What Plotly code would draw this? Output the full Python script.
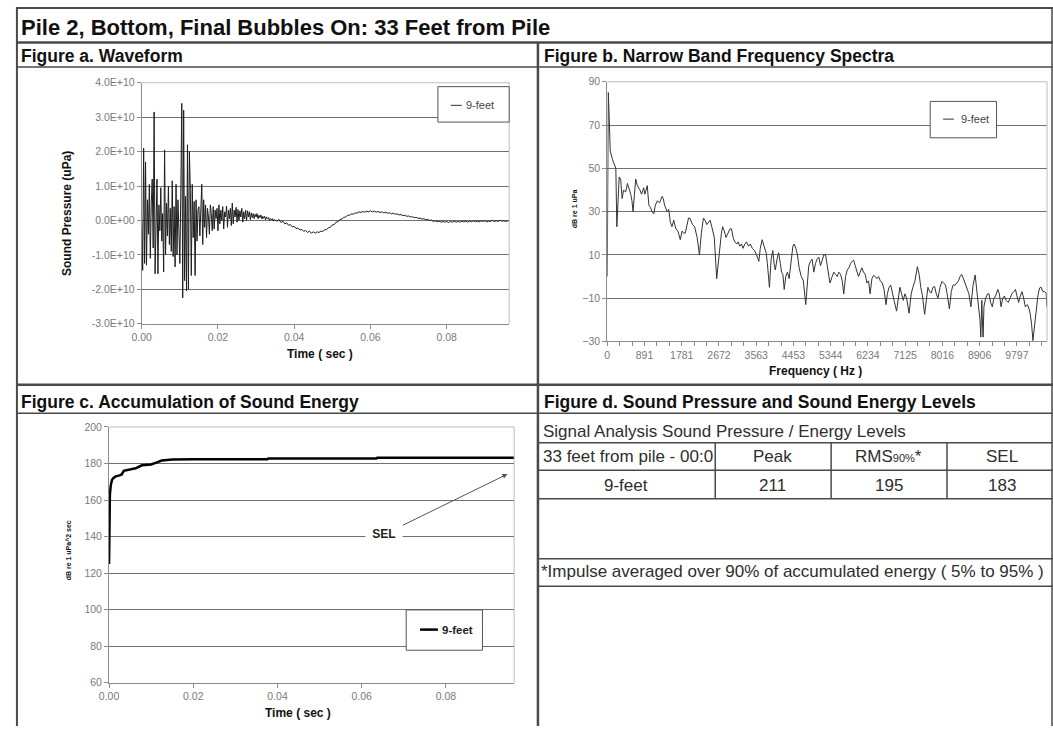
import plotly.graph_objects as go

W, H = 1053, 732
FONT = "Liberation Sans, Arial, sans-serif"

# ---------------- data ----------------
# Figure a: waveform, pressure in units of 1E+10 uPa
wave_early_dt = 0.00025
wave_early_e10 = [
    0.0, -1.45, 2.1, -1.25,
    1.7, -1.3, 0.6, -0.4,
    1.05, -1.1, 0.5, 1.2,
    -0.8, 3.15, -1.55, 0.3,
    1.2, -1.55, 0.45, -0.3,
    0.95, -0.6, 0.2, -1.5,
    2.05, -1.0, 0.5, -0.45,
    1.0, -0.7, 0.35, -0.9,
    1.15, -1.05, 0.4, -1.35,
    1.05, -1.0, 0.6, -0.3,
    -1.25, 0.8, 3.4, -2.25,
    3.2, -1.75, 0.7, -2.05,
    2.2, -2.0, 2.0, 0.9,
    -1.6, 1.05, -0.5, 0.55,
    -1.6, 0.6, -0.6, 0.3,
    0.4, -0.45, 0.5, 1.05,
    -0.7, 0.6, -0.2, 0.45,
    -0.5, 0.35, 0.1, -0.4,
    0.45, 0.2, -0.3, 0.4,
    -0.25, 0.3, 0.05, 0.35,
    -0.3, 0.45, -0.1, 0.3,
    0.0, 0.4, -0.25, 0.25,
    0.1, 0.42, -0.2, 0.3,
    0.05, 0.35, -0.15, 0.5,
    -0.1, 0.3, 0.1, 0.38,
    -0.05, 0.32, 0.0, 0.28,
    0.1, 0.35, -0.05, 0.25,
    0.05, 0.3, 0.0, 0.28,
    0.1, 0.25, 0.02, 0.22,
    0.08, 0.2, 0.05, 0.18,
    0.1, 0.2, 0.05, 0.15,
    0.08, 0.16, 0.04, 0.12,
    0.06, 0.12, 0.02, 0.1,
    0.05, 0.08, 0.0, 0.06,
    0.02, 0.05, -0.02, 0.03,
    0.0,
]
wave_late_t0 = 0.0355
wave_late_dt = 0.0005
wave_late_e10 = [
    -0.02, 0.03, -0.06, -0.02, -0.1, -0.07, -0.14, -0.12, -0.19, -0.17,
    -0.24, -0.22, -0.28, -0.26, -0.32, -0.29, -0.35, -0.31, -0.37, -0.33,
    -0.37, -0.33, -0.35, -0.31, -0.32, -0.27, -0.27, -0.21, -0.2, -0.13,
    -0.12, -0.05, -0.04, 0.03, 0.04, 0.09, 0.1, 0.15, 0.15, 0.19,
    0.18, 0.22, 0.21, 0.25, 0.23, 0.26, 0.24, 0.27, 0.25, 0.28,
    0.25, 0.27, 0.24, 0.26, 0.23, 0.25, 0.22, 0.24, 0.21, 0.22,
    0.19, 0.21, 0.18, 0.19, 0.16, 0.17, 0.14, 0.15, 0.12, 0.13,
    0.1, 0.11, 0.08, 0.09, 0.06, 0.07, 0.04, 0.05, 0.02, 0.03,
    0.0, 0.01, -0.03, -0.01, -0.04, -0.02, -0.05, -0.03, -0.05, -0.03,
    -0.06, -0.03, -0.05, -0.02, -0.05, -0.03, -0.05, -0.02, -0.04, -0.02,
    -0.05, -0.02, -0.04, -0.01, -0.04, -0.02, -0.04, -0.01, -0.03, -0.01,
    -0.04, -0.02, -0.03, 0.0, -0.03, -0.01, -0.03, 0.0, -0.02, -0.01,
    -0.03, -0.01, -0.02,
]

# Figure b: narrow band spectrum
spec_freq_hz = [
    0, 24, 40, 71, 126, 205, 229, 260, 285, 320, 356, 390, 440, 482, 520, 561, 590, 617, 650, 680,
    720, 782, 820, 870, 900, 956, 995, 1030, 1070, 1114, 1150, 1200, 1250, 1311, 1340, 1370, 1430,
    1470, 1510, 1548, 1590, 1640, 1690, 1746, 1790, 1830, 1865, 1905, 1944, 1975, 2000, 2040, 2090,
    2150, 2205, 2250, 2300, 2340, 2380, 2418, 2460, 2500, 2560, 2617, 2650, 2697, 2730, 2760, 2800,
    2840, 2880, 2935, 2973, 3010, 3052, 3100, 3130, 3170, 3210, 3247, 3290, 3330, 3380, 3420, 3470,
    3523, 3570, 3626, 3660, 3705, 3750, 3800, 3830, 3879, 3920, 3960, 3990, 4020, 4060, 4099, 4140,
    4170, 4200, 4233, 4270, 4310, 4350, 4400, 4440, 4470, 4510, 4550, 4590, 4640, 4690, 4747, 4780,
    4820, 4860, 4900, 4940, 4980, 5020, 5060, 5100, 5140, 5180, 5222, 5270, 5327, 5380, 5420, 5460,
    5500, 5540, 5580, 5620, 5657, 5700, 5740, 5780, 5820, 5860, 5894, 5930, 5970, 6010, 6050, 6090,
    6130, 6170, 6210, 6250, 6287, 6330, 6370, 6410, 6450, 6490, 6530, 6580, 6620, 6667, 6700, 6740,
    6780, 6820, 6860, 6920, 6960, 7000, 7040, 7080, 7120, 7160, 7220, 7270, 7310, 7360, 7418, 7460,
    7500, 7540, 7591, 7630, 7670, 7710, 7750, 7790, 7830, 7870, 7910, 7960, 8003, 8050, 8090, 8130,
    8184, 8230, 8270, 8320, 8360, 8400, 8440, 8476, 8520, 8560, 8600, 8650, 8698, 8750, 8800, 8840,
    8880, 8915, 8935, 8950, 8960, 8975, 8990, 9010, 9050, 9100, 9130, 9170, 9210, 9250, 9290, 9340,
    9380, 9420, 9460, 9500, 9540, 9590, 9630, 9680, 9720, 9765, 9800, 9840, 9880, 9920, 9960, 10000,
    10050, 10090, 10119, 10150, 10182, 10220, 10260, 10300, 10340, 10380, 10420, 10460, 10498, 10515,
]
spec_level_db = [
    0, 85, 77, 58, 54, 50, 23, 40, 46, 45, 36, 40, 39, 43, 41, 38, 35, 30, 38, 45,
    42, 40, 38, 41, 38, 42, 33, 32, 30, 29, 33, 35, 34, 37, 36, 33, 30,
    31, 25, 23, 26, 22, 21, 17, 21, 20, 20, 24, 27, 27, 26, 24, 23,
    18, 10, 20, 27, 26, 24, 25, 26, 23, 18, -1, 6, 13, 20, 23, 21,
    18, 20, 22, 22, 18, 16, 15, 16, 14, 15, 13, 15, 16, 14, 15, 13,
    12, 10, 7, 13, 17, 14, 11, 6, -5, 8, 12, 6, 3, 8, 11, 6,
    2, 1, -6, 0, 2, -1, 8, 14, 15, 13, 10, 4, 0, -2, -13, -3,
    5, 7, 8, 2, 6, 8, 9, 5, 8, 10, 10, 3, -3, 0, 2, 1,
    0, 2, 1, -2, -8, 0, 3, 4, 6, 7, 7.5, 5, 2, 0, 2, 4,
    2, 1, -3, -2, -8, -1, 0.5, 0, -1, 0, -2, -3, -6, -13, -8, -5,
    -4, -8, -11, -16, -9, -5, -8, -11, -8, -10, -17, -8, -5, -2, 4.5, 1,
    -5, -9, -17.5, -10, -5, -7, -7.6, -5, -4.6, -8, -10, -5, -2.3, -3, -4, -8,
    -15, -7, -4, -4, -3, -2, 0, 1, -1, -3, -5, -8, -14, -4, 0.7, -6,
    -13, -20, -28, -14, -11, -22, -28, -14, -10, -8, -8, -12, -14, -10, -9, -6,
    -8, -14, -10, -9, -11, -12, -10, -8, -7, -6, -9, -12, -9, -7, -10, -14,
    -13, -15, -17.5, -22, -29.6, -22, -16, -9, -5.3, -5, -7, -7, -7.6, -14,
]

# Figure c: accumulation of sound energy
sel_time_s = [0.0, 0.00005, 0.0001, 0.0002, 0.0004, 0.0007, 0.001, 0.0016, 0.0025, 0.003, 0.0035,
              0.0045, 0.0063, 0.0078, 0.01, 0.0112, 0.0125, 0.015, 0.02, 0.0376, 0.0378, 0.0635,
              0.0637, 0.0964]
sel_level_db = [125, 140, 152, 163, 168, 171, 172, 173, 173.5, 174, 176,
                176.5, 177.4, 179, 179.5, 180.5, 181.6, 182.2, 182.4, 182.4, 182.8, 182.8,
                183.1, 183.1]

# ticks
wave_yticks_e10 = [-3, -2, -1, 0, 1, 2, 3, 4]
wave_ytick_labels = ["-3.0E+10", "-2.0E+10", "-1.0E+10", "0.0E+00", "1.0E+10", "2.0E+10", "3.0E+10", "4.0E+10"]
time_ticks = [0.0, 0.02, 0.04, 0.06, 0.08]
time_tick_labels = ["0.00", "0.02", "0.04", "0.06", "0.08"]
freq_ticks = [0, 891, 1781, 2672, 3563, 4453, 5344, 6234, 7125, 8016, 8906, 9797]
spec_yticks = [-30, -10, 10, 30, 50, 70, 90]
sel_yticks = [60, 80, 100, 120, 140, 160, 180, 200]

# table (Figure d)
table_title = "Signal Analysis Sound Pressure / Energy Levels"
table_head = ["33 feet from pile - 00:0", "Peak", "RMS<span style='font-size:11px'>90%</span>*", "SEL"]
table_row = ["9-feet", "211", "195", "183"]
table_note = "*Impulse averaged over 90% of accumulated energy ( 5% to 95% )"
series_name = "9-feet"

# ---------------- helpers ----------------
def px(x):
    return x / W

def py(y):
    return 1 - y / H

wave_t = [i * wave_early_dt for i in range(len(wave_early_e10))] + \
         [wave_late_t0 + i * wave_late_dt for i in range(len(wave_late_e10))]
wave_p = [v * 1e10 for v in wave_early_e10 + wave_late_e10]

fig = go.Figure()
fig.add_trace(go.Scatter(x=wave_t, y=wave_p, mode="lines", name=series_name,
                         line=dict(color="#1e1e1e", width=1), xaxis="x", yaxis="y", showlegend=False))
fig.add_trace(go.Scatter(x=spec_freq_hz, y=spec_level_db, mode="lines", name=series_name,
                         line=dict(color="#333333", width=1), xaxis="x2", yaxis="y2", showlegend=False))
fig.add_trace(go.Scatter(x=sel_time_s, y=sel_level_db, mode="lines", name=series_name,
                         line=dict(color="#000000", width=2.5), xaxis="x3", yaxis="y3", showlegend=False))

AX_LINE = "#8c8c8c"
GRID = "#707070"
tickfont = dict(family=FONT, size=10.5, color="#7a7a7a")
common = dict(zeroline=False, showline=True, linecolor=AX_LINE, linewidth=1, ticks="outside",
              ticklen=4, tickcolor=AX_LINE, tickfont=tickfont, fixedrange=True)

fig.update_layout(
    xaxis=dict(domain=[px(133), px(504)], anchor="y", range=[0, 0.0964], tickmode="array",
               tickvals=time_ticks, ticktext=time_tick_labels, showgrid=False, **common),
    yaxis=dict(domain=[py(323), py(78)], anchor="x", range=[-3e10, 4e10], tickmode="array",
               tickvals=[v * 1e10 for v in wave_yticks_e10], ticktext=wave_ytick_labels,
               showgrid=True, gridcolor=GRID, gridwidth=1, **common),
    xaxis2=dict(domain=[px(603), px(1047)], anchor="y2", range=[0, 10520], tickmode="array",
                tickvals=freq_ticks, ticktext=[str(v) for v in freq_ticks], showgrid=False,
                minor=dict(ticks="outside", ticklen=4, tickcolor=AX_LINE, tick0=0, dtick=296.875, showgrid=False),
                **common),
    yaxis2=dict(domain=[py(341), py(77)], anchor="x2", range=[-30, 90], tickmode="array",
                tickvals=spec_yticks, showgrid=True, gridcolor=GRID, gridwidth=1, **common),
    xaxis3=dict(domain=[px(100), px(509)], anchor="y3", range=[0, 0.0962], tickmode="array",
                tickvals=time_ticks, ticktext=time_tick_labels, showgrid=False, **common),
    yaxis3=dict(domain=[py(688), py(428)], anchor="x3", range=[60, 200], tickmode="array",
                tickvals=sel_yticks, showgrid=True, gridcolor=GRID, gridwidth=1, **common),
)

shapes = []

def hline(y, x0, x1, w=1.5, c="#4a4a4a", layer="above"):
    shapes.append(dict(type="line", xref="paper", yref="paper", x0=px(x0), x1=px(x1), y0=py(y), y1=py(y),
                       line=dict(color=c, width=w), layer=layer))

def vline(x, y0, y1, w=1.5, c="#4a4a4a", layer="above"):
    shapes.append(dict(type="line", xref="paper", yref="paper", x0=px(x), x1=px(x), y0=py(y0), y1=py(y1),
                       line=dict(color=c, width=w), layer=layer))

def rect(x0, y0, x1, y1, c="#555555", w=1):
    shapes.append(dict(type="rect", xref="paper", yref="paper", x0=px(x0), x1=px(x1), y0=py(y1), y1=py(y0),
                       line=dict(color=c, width=w), fillcolor="white", layer="above"))

# plot-area borders (top and right, light gray)
for xa, ya in (("x", "y"), ("x2", "y2"), ("x3", "y3")):
    shapes.append(dict(type="line", xref=xa + " domain", yref=ya + " domain", x0=0, x1=1, y0=1, y1=1,
                       line=dict(color="#bdbdbd", width=1), layer="above"))
    shapes.append(dict(type="line", xref=xa + " domain", yref=ya + " domain", x0=1, x1=1, y0=0, y1=1,
                       line=dict(color="#bdbdbd", width=1), layer="above"))

# outer frame and panel separators
hline(2, 6, W, w=2)
vline(7, 2, H, w=2)
vline(W - 1, 2, H, w=1.5)
hline(37, 6, W, w=2.5)
hline(62, 6, W, w=1.5)
vline(533, 37, H, w=2.5)
hline(385, 6, W, w=2.5)
hline(414, 6, W, w=1.5)

# table grid
hline(444, 533, W)
hline(472, 533, W)
hline(501, 533, W)
hline(562, 533, W)
hline(590, 533, W)
for xv in (712, 829, 946):
    vline(xv, 444, 501)

# legend boxes
rect(432, 82, 504, 118)
hline(101, 445, 456, w=1, c="#333333")
rect(929, 97, 996, 134)
hline(115, 942, 953, w=1, c="#333333")
rect(400, 614, 477, 655)
hline(634, 414, 432, w=2.5, c="#000000")

fig.update_layout(shapes=shapes)

ann = []

def text(x, y, s, size, bold=False, anchor="left", color="#111111", angle=0):
    ann.append(dict(x=px(x), y=py(y), xref="paper", yref="paper", text=("<b>%s</b>" % s) if bold else s,
                    showarrow=False, xanchor=anchor, yanchor="middle", textangle=angle,
                    font=dict(family=FONT, size=size, color=color)))

text(9, 22, "Pile 2, Bottom, Final Bubbles On: 33 Feet from Pile", 22, bold=True)
text(9, 51, "Figure a. Waveform", 17.5, bold=True)
text(537, 51, "Figure b. Narrow Band Frequency Spectra", 17.5, bold=True)
text(9, 403, "Figure c. Accumulation of Sound Energy", 17.5, bold=True)
text(537, 403, "Figure d. Sound Pressure and Sound Energy Levels", 17.5, bold=True)

# axis titles
text(57, 211, "Sound Pressure (uPa)", 12, bold=True, anchor="center", angle=-90)
text(313, 354, "Time ( sec )", 12, bold=True, anchor="center")
text(570, 206, "dB re 1 uPa", 7, bold=True, anchor="center", angle=-90)
text(813, 371, "Frequency ( Hz )", 12, bold=True, anchor="center")
text(60, 553, "dB re 1 uPa^2 sec", 7, bold=True, anchor="center", angle=-90)
text(291, 719, "Time ( sec )", 12, bold=True, anchor="center")

# legend texts
text(458, 101, series_name, 11, color="#444444")
text(958, 115, series_name, 11, color="#444444")
text(434, 634, series_name, 11.5, bold=True, color="#222222")

# table texts
TC = "#2e2e2e"
text(536, 433, table_title, 17, color=TC)
text(536, 458, table_head[0], 17, color=TC)
text(770, 458, table_head[1], 17, color=TC, anchor="center")
text(887, 458, table_head[2], 17, color=TC, anchor="center")
text(1002, 458, table_head[3], 17, color=TC, anchor="center")
text(622, 487, table_row[0], 17, color=TC, anchor="center")
text(770, 487, table_row[1], 17, color=TC, anchor="center")
text(887, 487, table_row[2], 17, color=TC, anchor="center")
text(1002, 487, table_row[3], 17, color=TC, anchor="center")
text(534, 575, table_note, 17, color=TC)

# SEL arrow annotation
ann.append(dict(xref="x3", yref="y3", x=0.0946, y=174.2, axref="x3", ayref="y3", ax=0.0654, ay=141.3,
                text="<b>SEL</b>", showarrow=True, arrowhead=2, arrowsize=1, arrowwidth=1,
                arrowcolor="#555555", bgcolor="white", width=30, borderpad=3,
                font=dict(family=FONT, size=12, color="#222222")))

fig.update_layout(annotations=ann, width=W, height=H, autosize=False,
                  margin=dict(l=0, r=0, t=0, b=0), paper_bgcolor="white", plot_bgcolor="white",
                  showlegend=False)

fig.write_html("out.html", config={"displayModeBar": False})
